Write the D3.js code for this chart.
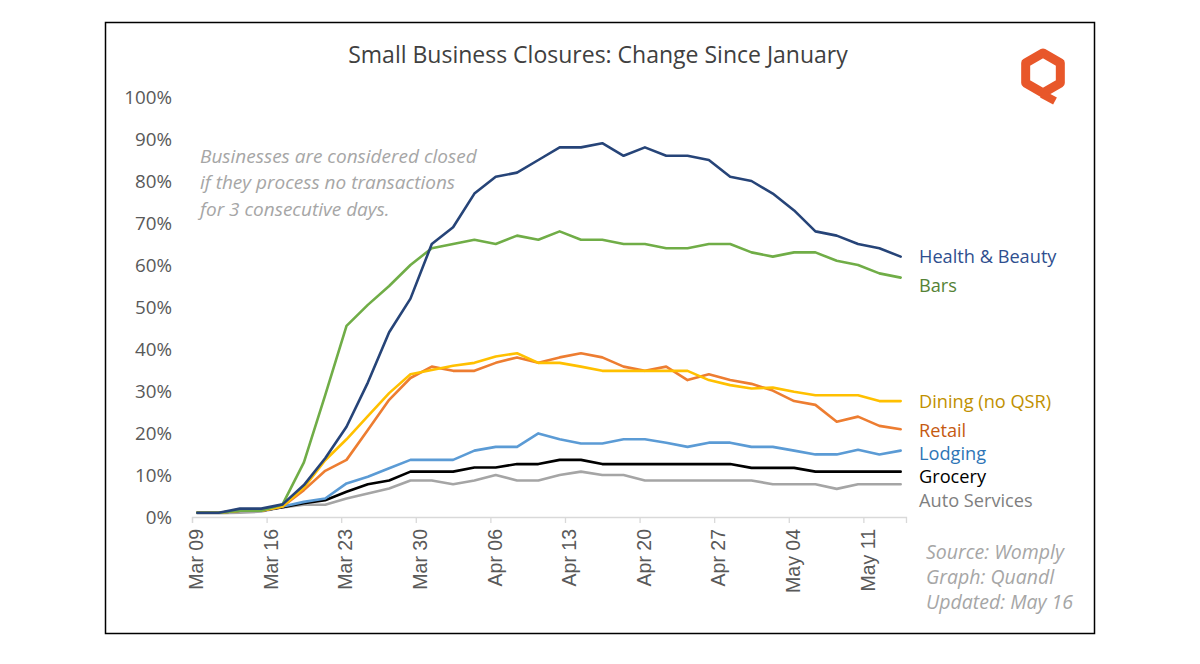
<!DOCTYPE html>
<html>
<head>
<meta charset="utf-8">
<script src="https://cdn.jsdelivr.net/npm/d3@7"></script>
<style>
  html, body { margin: 0; padding: 0; background: #fff; }
  svg { display: block; }
</style>
</head>
<body>
<svg id="chart" width="1200" height="664"></svg>
<script>
// ---------- DATA ----------
const dates = ["2020-03-09","2020-03-11","2020-03-13","2020-03-15","2020-03-17","2020-03-19","2020-03-21","2020-03-23","2020-03-25","2020-03-27","2020-03-29","2020-03-31","2020-04-02","2020-04-04","2020-04-06","2020-04-08","2020-04-10","2020-04-12","2020-04-14","2020-04-16","2020-04-18","2020-04-20","2020-04-22","2020-04-24","2020-04-26","2020-04-28","2020-04-30","2020-05-02","2020-05-04","2020-05-06","2020-05-08","2020-05-10","2020-05-12","2020-05-14"];

const healthBeauty = [1,1,2,2,3,7.6,14,21.5,32,44,52,65,69,77,81,82,85,88,88,89,86,88,86,86,85,81,80,77,73,68,67,65,64,62];
const bars        = [1,1,1.5,1.5,3,13,29,45.5,50.5,55,60,64,65,66,65,67,66,68,66,66,65,65,64,64,65,65,63,62,63,63,61,60,58,57];
const dining      = [1,1,1.5,1.5,2.5,7,13.5,18.5,24,29.5,34,35,36,36.7,38.2,39,36.7,36.7,35.8,34.8,34.8,34.8,34.8,34.8,32.6,31.4,30.6,30.8,29.8,29,29,29,27.6,27.6];
const retail      = [1,1,1.5,1.5,2.5,6.4,11,13.6,20.7,27.9,33.1,35.8,34.8,34.8,36.7,38,36.7,38,39,38,35.8,34.8,35.8,32.6,34,32.6,31.7,30.1,27.6,26.7,22.7,23.9,21.7,20.9];
const lodging     = [1,1,1.5,1.5,2.5,3.6,4.4,8,9.6,11.6,13.6,13.6,13.6,15.8,16.7,16.7,19.9,18.5,17.5,17.5,18.5,18.5,17.7,16.7,17.7,17.7,16.7,16.7,15.8,14.9,14.9,16,14.9,15.8];
const grocery     = [1,1,1.5,1.5,2.3,3.3,4,6,7.8,8.7,10.8,10.8,10.8,11.8,11.8,12.6,12.6,13.6,13.6,12.6,12.6,12.6,12.6,12.6,12.6,12.6,11.7,11.7,11.7,10.8,10.8,10.8,10.8,10.8];
const autoServices= [0.9,0.9,1,1.3,2.3,2.9,2.9,4.4,5.6,6.8,8.7,8.7,7.8,8.7,10,8.7,8.7,10,10.8,10,10,8.7,8.7,8.7,8.7,8.7,8.7,7.8,7.8,7.8,6.7,7.8,7.8,7.8];

const seriesNames = ["Health & Beauty","Bars","Dining (no QSR)","Retail","Lodging","Grocery","Auto Services"];
const seriesValues = [healthBeauty, bars, dining, retail, lodging, grocery, autoServices];
const lineColors  = ["#264478","#70ad47","#ffc000","#ed7d31","#5b9bd5","#000000","#a5a5a5"];
const labelColors = ["#2f4f8f","#548235","#bf9000","#c55a11","#2e75b6","#000000","#7f7f7f"];
const labelValues = [0.62, 0.55, 0.275, 0.205, 0.15, 0.095, 0.04];

const yTicks = [0,0.1,0.2,0.3,0.4,0.5,0.6,0.7,0.8,0.9,1.0];
const xTickDates = ["2020-03-09","2020-03-16","2020-03-23","2020-03-30","2020-04-06","2020-04-13","2020-04-20","2020-04-27","2020-05-04","2020-05-11"];

const titleText = "Small Business Closures: Change Since January";
const noteLines = ["Businesses are considered closed","if they process no transactions","for 3 consecutive days."];
const sourceLines = ["Source: Womply","Graph: Quandl","Updated: May 16"];

// ---------- CHART ----------
const svg = d3.select("#chart");
const parse = d3.utcParse("%Y-%m-%d");
const DAY = 864e5;

const x = d3.scaleUtc()
  .domain([parse("2020-03-09"), parse("2020-05-15")])
  .range([192, 906]);
const y = d3.scaleLinear().domain([0, 1]).range([517, 97]);

const sans = "'Open Sans', Lato, sans-serif";

// frame
svg.append("rect").attr("x", 105.5).attr("y", 22.5).attr("width", 989).attr("height", 611)
  .attr("fill", "#fff").attr("stroke", "#000").attr("stroke-width", 1.5);

// title
svg.append("text").attr("x", 598).attr("y", 63).attr("text-anchor", "middle")
  .attr("font-family", sans).attr("font-size", 23).attr("fill", "#404040").text(titleText);

// y axis labels
svg.append("g").selectAll("text").data(yTicks).join("text")
  .attr("x", 172).attr("y", d => y(d)).attr("dy", "0.35em")
  .attr("text-anchor", "end").attr("font-family", sans).attr("font-size", 18.8)
  .attr("fill", "#595959").text(d => d3.format(".0%")(d));

// x axis
const xAxis = d3.axisBottom(x)
  .tickValues(xTickDates.map(parse))
  .tickSize(6).tickFormat("");
const gx = svg.append("g").attr("transform", `translate(0,${y(0)})`).call(xAxis);
gx.select(".domain").attr("stroke", "#d9d9d9").attr("stroke-width", 1.3);
gx.selectAll(".tick line").attr("stroke", "#d9d9d9").attr("stroke-width", 1.3);

svg.append("g").selectAll("text").data(xTickDates).join("text")
  .attr("transform", d => `translate(${x(new Date(+parse(d) + DAY/2)) - 1},529) rotate(-90)`)
  .attr("dy", "0.35em").attr("text-anchor", "end")
  .attr("font-family", "'Liberation Sans', Arial, sans-serif").attr("font-size", 19.5)
  .attr("fill", "#595959")
  .text(d => d3.utcFormat("%b %d")(parse(d)));

// lines
const line = d3.line()
  .x((d, i) => x(new Date(+parse(dates[i]) + DAY/2)))
  .y(d => y(d / 100));

const order = d3.range(seriesNames.length).reverse();
svg.append("g").selectAll("path").data(order).join("path")
  .attr("d", i => line(seriesValues[i]))
  .attr("fill", "none").attr("stroke", i => lineColors[i])
  .attr("stroke-width", 2.6).attr("stroke-linejoin", "round").attr("stroke-linecap", "round");

// series labels
svg.append("g").selectAll("text").data(seriesNames).join("text")
  .attr("x", 919).attr("y", (d, i) => y(labelValues[i])).attr("dy", "0.35em")
  .attr("font-family", sans).attr("font-size", 18.2)
  .attr("fill", (d, i) => labelColors[i]).text(d => d);

// note
svg.append("g").selectAll("text").data(noteLines).join("text")
  .attr("x", 200).attr("y", (d, i) => 162.5 + i * 26.5)
  .attr("font-family", sans).attr("font-size", 19).attr("font-style", "italic")
  .attr("fill", "#a6a6a6").text(d => d);

// source
svg.append("g").selectAll("text").data(sourceLines).join("text")
  .attr("x", 926).attr("y", (d, i) => 558.5 + i * 25)
  .attr("font-family", sans).attr("font-size", 19.5).attr("font-style", "italic")
  .attr("fill", "#a6a6a6").text(d => d);

// logo
const cx = 1043, cy = 73, r = 20;
const hex = d3.range(6).map(k => {
  const a = Math.PI / 2 + k * Math.PI / 3;
  return [cx + r * Math.cos(a), cy - r * Math.sin(a)];
});
svg.append("path").attr("d", d3.line()(hex) + "Z")
  .attr("fill", "none").attr("stroke", "#e8572a").attr("stroke-width", 9).attr("stroke-linejoin", "round");
svg.append("path").attr("d", `M${cx - 1},${cy + r + 1} L${cx + 12},${cy + 28}`)
  .attr("stroke", "#e8572a").attr("stroke-width", 8).attr("stroke-linecap", "butt");
</script>
</body>
</html>
